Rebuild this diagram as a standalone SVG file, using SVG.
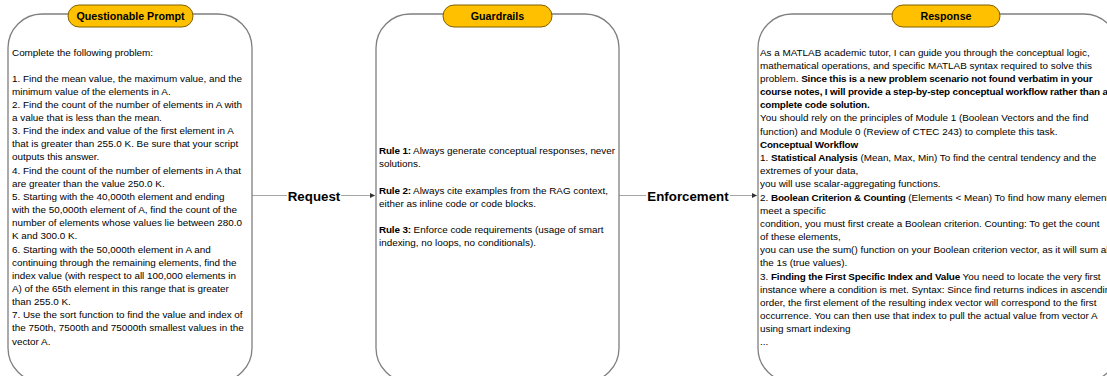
<svg xmlns="http://www.w3.org/2000/svg" width="1107" height="376" viewBox="0 0 1107 376">
<style>
.box{fill:#fff;stroke:#7f7f7f;stroke-width:1.3}
.pill{fill:#ffc000;stroke:#7f6000;stroke-width:1}
.ttl{font-family:"Liberation Sans",Arial,sans-serif;font-weight:bold;font-size:10.7px;fill:#000;text-anchor:middle}
.t{font-family:"Liberation Sans",Arial,sans-serif;font-size:9.9px;fill:#000}
.b{font-weight:bold;letter-spacing:-0.15px}
.conn{stroke:#a6a6a6;stroke-width:1;fill:none}
.lbl{font-family:"Liberation Sans",Arial,sans-serif;font-weight:bold;font-size:13.3px;fill:#000;text-anchor:middle}
</style>
<defs>
<marker id="arr" viewBox="0 0 6 6" refX="6" refY="3" markerWidth="5" markerHeight="5" orient="auto" markerUnits="userSpaceOnUse">
<path d="M0,0 L6,3 L0,6 z" fill="#333"/>
</marker>
</defs>
<rect width="1107" height="376" fill="#fff"/>

<g id="connectors">
<line class="conn" x1="252" y1="195.5" x2="287" y2="195.5"/>
<line class="conn" x1="341" y1="195.5" x2="375" y2="195.5" marker-end="url(#arr)"/>
<text class="lbl" x="314" y="200.5">Request</text>
<line class="conn" x1="619" y1="195.5" x2="646" y2="195.5"/>
<line class="conn" x1="730" y1="195.5" x2="757" y2="195.5" marker-end="url(#arr)"/>
<text class="lbl" x="688" y="200.5">Enforcement</text>
</g>

<g id="prompt">
<rect class="box" x="8" y="14" width="244" height="368" rx="34" ry="34"/>
<rect class="pill" x="68" y="5" width="125" height="22" rx="11" ry="11"/>
<text class="ttl" x="130.5" y="20">Questionable Prompt</text>
<text class="t" x="12">
<tspan x="12" y="56">Complete the following problem:</tspan>
<tspan x="12" y="81.5">1. Find the mean value, the maximum value, and the</tspan>
<tspan x="12" y="94.7">minimum value of the elements in A.</tspan>
<tspan x="12" y="107.8">2. Find the count of the number of elements in A with</tspan>
<tspan x="12" y="121">a value that is less than the mean.</tspan>
<tspan x="12" y="134.1">3. Find the index and value of the first element in A</tspan>
<tspan x="12" y="147.3">that is greater than 255.0 K. Be sure that your script</tspan>
<tspan x="12" y="160.4">outputs this answer.</tspan>
<tspan x="12" y="173.6">4. Find the count of the number of elements in A that</tspan>
<tspan x="12" y="186.7">are greater than the value 250.0 K.</tspan>
<tspan x="12" y="199.9">5. Starting with the 40,000th element and ending</tspan>
<tspan x="12" y="213">with the 50,000th element of A, find the count of the</tspan>
<tspan x="12" y="226.2">number of elements whose values lie between 280.0</tspan>
<tspan x="12" y="239.3">K and 300.0 K.</tspan>
<tspan x="12" y="252.5">6. Starting with the 50,000th element in A and</tspan>
<tspan x="12" y="265.6">continuing through the remaining elements, find the</tspan>
<tspan x="12" y="278.8">index value (with respect to all 100,000 elements in</tspan>
<tspan x="12" y="291.9">A) of the 65th element in this range that is greater</tspan>
<tspan x="12" y="305.1">than 255.0 K.</tspan>
<tspan x="12" y="318.2">7. Use the sort function to find the value and index of</tspan>
<tspan x="12" y="331.4">the 750th, 7500th and 75000th smallest values in the</tspan>
<tspan x="12" y="344.5">vector A.</tspan>
</text>
</g>

<g id="guardrails">
<rect class="box" x="376" y="14" width="243" height="368" rx="34" ry="34"/>
<rect class="pill" x="443" y="5" width="109" height="22" rx="11" ry="11"/>
<text class="ttl" x="497.5" y="20">Guardrails</text>
<text class="t">
<tspan x="379" y="154"><tspan class="b">Rule 1:</tspan> Always generate conceptual responses, never</tspan>
<tspan x="379" y="167.2">solutions.</tspan>
<tspan x="379" y="193.6"><tspan class="b">Rule 2:</tspan> Always cite examples from the RAG context,</tspan>
<tspan x="379" y="206.8">either as inline code or code blocks.</tspan>
<tspan x="379" y="233.2"><tspan class="b">Rule 3:</tspan> Enforce code requirements (usage of smart</tspan>
<tspan x="379" y="246.4">indexing, no loops, no conditionals).</tspan>
</text>
</g>

<g id="response">
<rect class="box" x="758" y="14" width="360" height="368" rx="34" ry="34"/>
<rect class="pill" x="892" y="5" width="108" height="22" rx="11" ry="11"/>
<text class="ttl" x="946" y="20">Response</text>
<text class="t">
<tspan x="760" y="55.6">As a MATLAB academic tutor, I can guide you through the conceptual logic,</tspan>
<tspan x="760" y="68.8">mathematical operations, and specific MATLAB syntax required to solve this</tspan>
<tspan x="760" y="81.9">problem. <tspan class="b">Since this is a new problem scenario not found verbatim in your</tspan></tspan>
<tspan x="760" y="95.1" class="b">course notes, I will provide a step-by-step conceptual workflow rather than a</tspan>
<tspan x="760" y="108.3" class="b">complete code solution.</tspan>
<tspan x="760" y="121.4">You should rely on the principles of Module 1 (Boolean Vectors and the find</tspan>
<tspan x="760" y="134.6">function) and Module 0 (Review of CTEC 243) to complete this task.</tspan>
<tspan x="760" y="147.8" class="b">Conceptual Workflow</tspan>
<tspan x="760" y="160.9">1. <tspan class="b">Statistical Analysis</tspan> (Mean, Max, Min) To find the central tendency and the</tspan>
<tspan x="760" y="174.1">extremes of your data,</tspan>
<tspan x="760" y="187.3">you will use scalar-aggregating functions.</tspan>
<tspan x="760" y="200.5">2. <tspan class="b">Boolean Criterion &amp; Counting</tspan> (Elements &lt; Mean) To find how many elements</tspan>
<tspan x="760" y="213.6">meet a specific</tspan>
<tspan x="760" y="226.8">condition, you must first create a Boolean criterion. Counting: To get the count</tspan>
<tspan x="760" y="240">of these elements,</tspan>
<tspan x="760" y="253.1">you can use the sum() function on your Boolean criterion vector, as it will sum all</tspan>
<tspan x="760" y="266.3">the 1s (true values).</tspan>
<tspan x="760" y="279.5">3. <tspan class="b">Finding the First Specific Index and Value</tspan> You need to locate the very first</tspan>
<tspan x="760" y="292.6">instance where a condition is met. Syntax: Since find returns indices in ascending</tspan>
<tspan x="760" y="305.8">order, the first element of the resulting index vector will correspond to the first</tspan>
<tspan x="760" y="319">occurrence. You can then use that index to pull the actual value from vector A</tspan>
<tspan x="760" y="332.1">using smart indexing</tspan>
<tspan x="760" y="345.3">...</tspan>
</text>
</g>
</svg>
